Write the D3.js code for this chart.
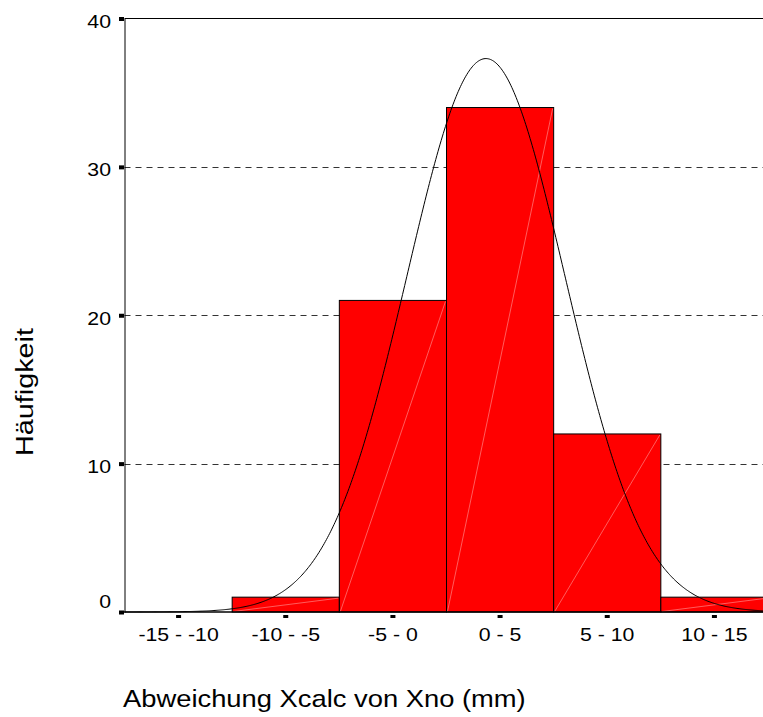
<!DOCTYPE html>
<html>
<head>
<meta charset="utf-8">
<script src="https://cdn.jsdelivr.net/npm/d3@7"></script>
<style>
  html, body { margin: 0; padding: 0; background: #fff; }
  svg { display: block; font-family: "Liberation Sans", Arial, sans-serif; }
</style>
</head>
<body>
<svg id="chart" width="763" height="717"></svg>
<script>
// Histogram of deviations (mm) with fitted normal curve
const categories = ["-15 - -10", "-10 - -5", "-5 - 0", "0 - 5", "5 - 10", "10 - 15"];
const binStarts = [-15, -10, -5, 0, 5, 10];
const binWidth = 5;
const counts = [0, 1, 21, 34, 12, 1];
const yTicks = [0, 10, 20, 30, 40];
const gridValues = [10, 20, 30];
const fitMean = 1.84;
const fitSD = 3.69;

const W = 763, H = 717;
const svg = d3.select("#chart");
svg.append("rect").attr("width", W).attr("height", H).attr("fill", "#fff");

const plotLeft = 124.5, plotTop = 18.5, plotBottom = 612;
const bandLeft = 125, bandRight = 768;

const xBand = d3.scaleBand().domain(categories).range([bandLeft, bandRight]).padding(0);
const xVal = d3.scaleLinear().domain([binStarts[0], binStarts[binStarts.length - 1] + binWidth]).range([bandLeft, bandRight]);
const y = d3.scaleLinear().domain([0, 40]).range([plotBottom, plotTop]);

// Gridlines
svg.append("g").selectAll("line").data(gridValues).join("line")
  .attr("x1", plotLeft).attr("x2", W)
  .attr("y1", d => Math.round(y(d)) + 0.5).attr("y2", d => Math.round(y(d)) + 0.5)
  .attr("stroke", "#333").attr("stroke-width", 1).attr("stroke-dasharray", "6,5");

// Top frame line at the maximum
svg.append("line")
  .attr("x1", plotLeft).attr("x2", W)
  .attr("y1", y(40)).attr("y2", y(40))
  .attr("stroke", "#000").attr("stroke-width", 1);

// Bars
const bars = svg.append("g");
bars.selectAll("rect").data(categories.map((c, i) => ({ c, v: counts[i] })).filter(d => d.v > 0)).join("rect")
  .attr("x", d => xBand(d.c))
  .attr("y", d => y(d.v))
  .attr("width", xBand.bandwidth())
  .attr("height", d => plotBottom - y(d.v))
  .attr("fill", "#ff0000")
  .attr("stroke", "#000")
  .attr("stroke-width", 1);

// faint diagonal seams across the bar fills
bars.selectAll("line").data(categories.map((c, i) => ({ c, v: counts[i] })).filter(d => d.v > 0)).join("line")
  .attr("x1", d => xBand(d.c) + 1)
  .attr("y1", plotBottom - 0.5)
  .attr("x2", d => xBand(d.c) + xBand.bandwidth() - 1)
  .attr("y2", d => y(d.v) + 1)
  .attr("stroke", "#ff9a9a").attr("stroke-width", 0.6);

// Fitted normal curve scaled to counts
const total = d3.sum(counts);
const curvePts = d3.range(binStarts[0], binStarts[binStarts.length - 1] + binWidth + 0.001, 0.05).map(v => [
  v,
  total * binWidth * Math.exp(-((v - fitMean) ** 2) / (2 * fitSD * fitSD)) / (fitSD * Math.sqrt(2 * Math.PI))
]);
svg.append("path")
  .datum(curvePts)
  .attr("d", d3.line().x(d => xVal(d[0])).y(d => y(d[1])))
  .attr("fill", "none").attr("stroke", "#000").attr("stroke-width", 1);

// Y axis
const yAxis = svg.append("g")
  .attr("transform", `translate(${plotLeft},0)`)
  .call(d3.axisLeft(y).tickValues(yTicks).tickSize(0).tickSizeOuter(0).tickFormat(d3.format("d")));
yAxis.select(".domain").attr("stroke", "#000").attr("stroke-width", 1);
yAxis.selectAll(".tick text")
  .attr("x", 0).attr("dy", null)
  .attr("y", 0)
  .attr("font-size", 19)
  .attr("font-family", "Liberation Sans, Arial, sans-serif")
  .attr("fill", "#000")
  .attr("text-anchor", "end")
  .attr("transform", d => `translate(-13.5,${d === 0 ? -5 : 9}) scale(1.12,1)`);
yAxis.selectAll(".tick").append("rect")
  .attr("x", -5.5).attr("y", -2).attr("width", 5).attr("height", 4).attr("fill", "#000");

// X axis
const xAxis = svg.append("g")
  .attr("transform", `translate(0,${plotBottom})`)
  .call(d3.axisBottom(xBand).tickSize(0));
xAxis.select(".domain").remove();
xAxis.append("line")
  .attr("x1", plotLeft - 0.5).attr("x2", W).attr("y1", 0).attr("y2", 0)
  .attr("stroke", "#000").attr("stroke-width", 1.5);
xAxis.selectAll(".tick text")
  .attr("y", 0).attr("dy", null)
  .attr("font-size", 19)
  .attr("font-family", "Liberation Sans, Arial, sans-serif")
  .attr("fill", "#000")
  .attr("text-anchor", "middle")
  .attr("transform", "translate(0,29) scale(1.12,1)");
xAxis.selectAll(".tick").append("rect")
  .attr("x", -2.5).attr("y", 3).attr("width", 5).attr("height", 3).attr("fill", "#000");

// Axis titles
svg.append("text")
  .attr("transform", "translate(123,707) scale(1.14,1)")
  .attr("font-size", 24)
  .attr("fill", "#000")
  .text("Abweichung Xcalc von Xno (mm)");

svg.append("text")
  .attr("transform", "translate(33,392) rotate(-90) scale(1.2,1)")
  .attr("text-anchor", "middle")
  .attr("font-size", 24)
  .attr("fill", "#000")
  .text("Häufigkeit");
</script>
</body>
</html>
